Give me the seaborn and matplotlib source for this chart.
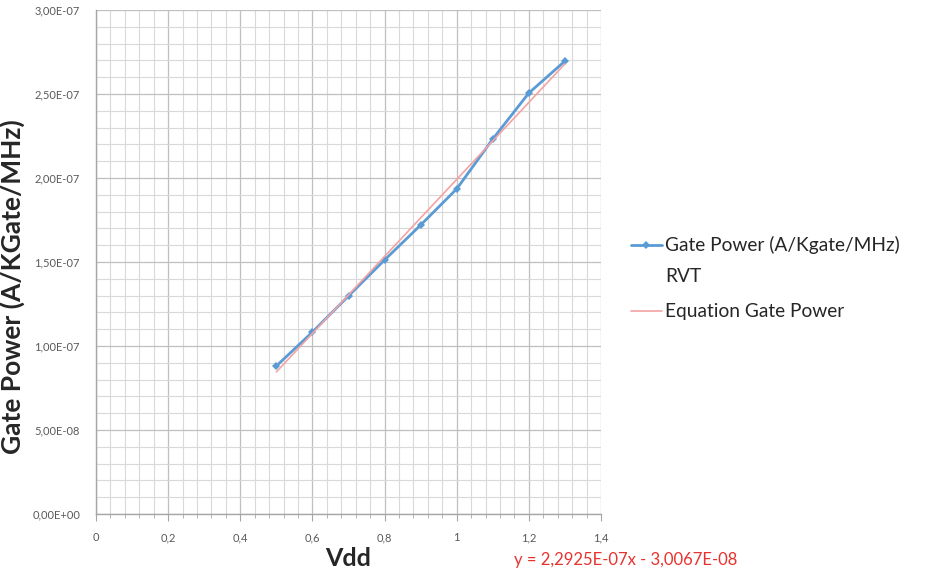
import pandas as pd
import seaborn as sns
import matplotlib.pyplot as plt
from matplotlib.ticker import MultipleLocator, FuncFormatter
from matplotlib.legend_handler import HandlerLine2D

# values
vdd = [0.5, 0.6, 0.7, 0.8, 0.9, 1.0, 1.1, 1.2, 1.3]
gate_power = [8.81e-8, 1.083e-7, 1.298e-7, 1.512e-7, 1.72e-7, 1.935e-7, 2.232e-7, 2.506e-7, 2.696e-7]
# linear trendline end points (y = 2,2925E-07x - 3,0067E-08)
trend_x = [0.5, 1.3]
trend_y = [8.456e-8, 2.6794e-7]

series_name = "Gate Power (A/Kgate/MHz)\nRVT"
trend_name = "Equation Gate Power"
equation = "y = 2,2925E-07x - 3,0067E-08"

df = pd.DataFrame({"Vdd": vdd, "power": gate_power})
trend = pd.DataFrame({"Vdd": trend_x, "power": trend_y})

sns.set_style("white")
plt.rcParams['font.family'] = ['Lato', 'DejaVu Sans']

fig = plt.figure(figsize=(9.32, 5.79), dpi=100)
ax = fig.add_axes([96/932, 65/579, 505/932, 504/579])

sns.lineplot(data=df, x="Vdd", y="power", ax=ax, color="#5B9BD5", linewidth=2,
             marker="D", markersize=4, markeredgewidth=0, label=series_name)
sns.lineplot(data=trend, x="Vdd", y="power", ax=ax, color="#F4A3A3", linewidth=1.2,
             label=trend_name)

ax.set_xlim(0, 1.4)
ax.set_ylim(0, 3e-7)
ax.xaxis.set_major_locator(MultipleLocator(0.2))
ax.xaxis.set_minor_locator(MultipleLocator(0.04))
ax.yaxis.set_major_locator(MultipleLocator(5e-8))
ax.yaxis.set_minor_locator(MultipleLocator(1e-8))

def xfmt(v, pos):
    s = "%g" % round(v, 2)
    return s.replace(".", ",")

def yfmt(v, pos):
    s = "%.2E" % v
    return s.replace(".", ",")

ax.xaxis.set_major_formatter(FuncFormatter(xfmt))
ax.yaxis.set_major_formatter(FuncFormatter(yfmt))

ax.grid(which="major", color="#BFBFBF", linewidth=0.9)
ax.grid(which="minor", color="#D9D9D9", linewidth=0.8)
ax.set_axisbelow(True)

for side in ["top", "right"]:
    ax.spines[side].set_visible(False)
for side in ["left", "bottom"]:
    ax.spines[side].set_color("#A6A6A6")
    ax.spines[side].set_linewidth(1)

ax.tick_params(axis="x", which="both", bottom=True, direction="out", color="#A6A6A6",
               labelsize=8, labelcolor="#595959", pad=8)
ax.tick_params(axis="x", which="major", length=5)
ax.tick_params(axis="x", which="minor", length=3)
ax.tick_params(axis="y", which="both", left=False, labelsize=8, labelcolor="#595959", pad=8)

ax.set_xlabel("Vdd", fontsize=18, fontweight="bold")
ax.set_ylabel("Gate Power (A/KGate/MHz)", fontsize=19, fontweight="bold")
ax.xaxis.set_label_coords(0.5, -0.065)
ax.yaxis.set_label_coords(-0.14, 0.452)


# legend key of the two-line entry sits on its first line, like Excel
class FirstLineHandler(HandlerLine2D):
    def create_artists(self, legend, orig_handle, xdescent, ydescent, width, height, fontsize, trans):
        return super().create_artists(legend, orig_handle, xdescent, ydescent - 23,
                                      width, height, fontsize, trans)


handles, labels = ax.get_legend_handles_labels()
leg = ax.legend(handles, labels, handler_map={handles[0]: FirstLineHandler()},
                loc="center left", bbox_to_anchor=(1.025, 0.468), frameon=False,
                fontsize=13.8, handlelength=1.6, handletextpad=0.2, labelspacing=0.95)
for t in leg.get_texts():
    t.set_linespacing(2.0)

fig.text(514/932, 1 - 560/579, equation, color="#E8322F", fontsize=12, va="center")

fig.savefig("out.png", dpi=100)
plt.close()
